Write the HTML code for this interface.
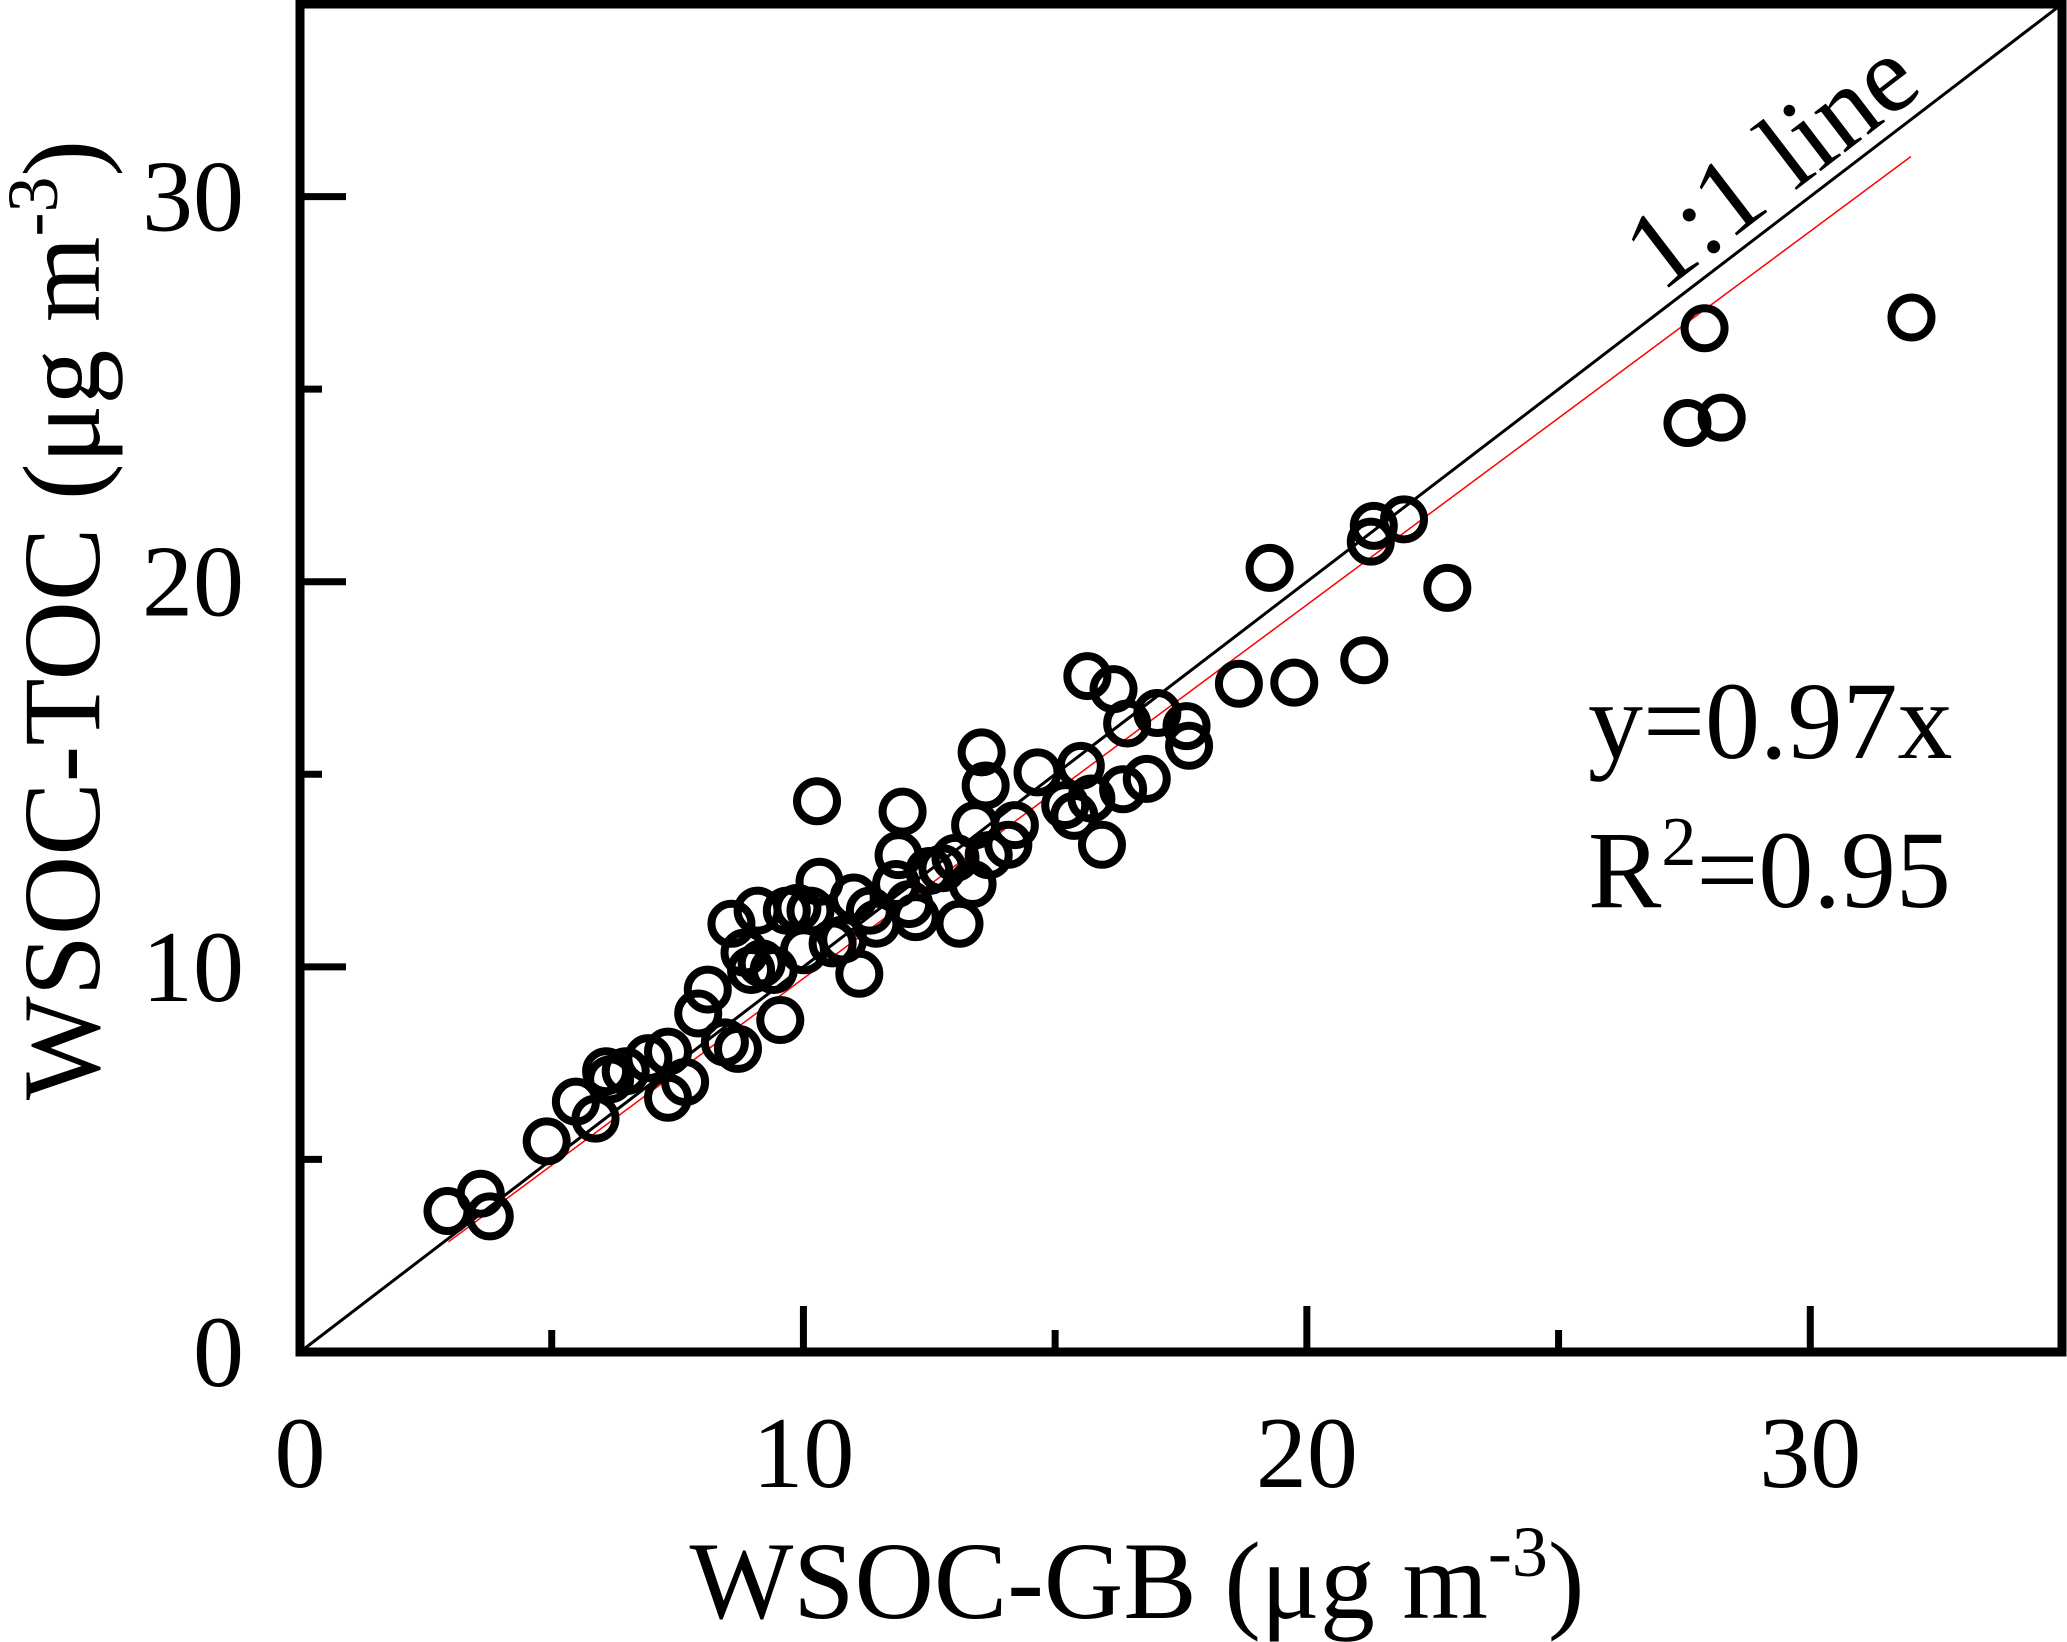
<!DOCTYPE html>
<html><head><meta charset="utf-8"><style>
html,body{margin:0;padding:0;background:#fff;}
svg{display:block;}
text{font-family:"Liberation Serif","Times New Roman",serif;fill:#000;}
</style></head><body>
<svg id="chart" width="2067" height="1642" viewBox="0 0 2067 1642" xmlns="http://www.w3.org/2000/svg">
<g id="plot"></g>
</svg>
<script>
const xTicks=[0,10,20,30];
const yTicks=[0,10,20,30];
const minorTicks=[5,15,25];
const xVals=[2.93,3.59,3.77,4.90,5.48,5.87,6.08,6.16,6.47,6.92,7.31,7.31,7.65,7.91,8.10,8.44,8.57,8.70,8.83,8.96,9.09,9.17,9.41,9.54,9.67,9.88,10.01,10.14,10.27,10.32,10.58,10.79,11.00,11.11,11.32,11.45,11.84,11.89,11.97,12.10,12.23,12.50,12.76,13.02,13.10,13.36,13.41,13.54,13.62,13.68,14.07,14.20,14.65,15.20,15.38,15.51,15.64,15.72,15.93,16.16,16.35,16.43,16.82,17.03,17.61,17.66,18.65,19.26,19.75,21.14,21.27,21.33,21.93,22.79,27.56,27.90,28.24,32.01];
const yVals=[3.66,4.11,3.52,5.47,6.50,6.06,7.29,7.08,7.29,7.63,6.60,7.80,7.01,8.79,9.41,8.04,11.12,7.87,10.37,9.92,11.46,10.09,9.92,8.62,11.46,11.53,10.43,11.46,14.30,12.21,10.61,10.71,11.80,9.82,11.46,11.12,12.15,12.90,14.03,11.63,11.29,12.49,12.56,12.83,11.12,12.15,13.68,15.57,14.71,12.90,13.17,13.68,15.05,14.20,13.92,15.22,17.55,14.37,13.17,17.21,14.61,16.32,14.88,16.59,16.25,15.74,17.35,20.36,17.38,17.96,21.04,21.45,21.62,19.84,24.12,26.58,24.26,26.86];
const fitSlope=[0.97];
const fitRange=[2.95,32.0];

const X0=300,X1=2062,Y0=1352,Y1=4,MAX=35;
const sx=v=>X0+(X1-X0)*v/MAX;
const sy=v=>Y0-(Y0-Y1)*v/MAX;
const NS="http://www.w3.org/2000/svg";
const g=document.getElementById('plot');
function mk(tag,attrs){const e=document.createElementNS(NS,tag);for(const k in attrs)e.setAttribute(k,attrs[k]);g.appendChild(e);return e;}

let l=mk('line',{x1:sx(0),y1:sy(0),x2:sx(MAX),y2:sy(MAX),stroke:'#000','stroke-width':3});


let f=mk('line',{x1:sx(fitRange[0]),y1:sy(fitRange[0]*fitSlope[0]),x2:sx(fitRange[1]),y2:sy(fitRange[1]*fitSlope[0]),stroke:'#ff0000','stroke-width':1.5});



for(let i=0;i<xVals.length;i++){
  const c=mk('circle',{cx:sx(xVals[i]),cy:sy(yVals[i]),r:20,fill:'none',stroke:'#000','stroke-width':8});
  
  
}

let fr=mk('rect',{x:X0,y:Y1,width:X1-X0,height:Y0-Y1,fill:'none',stroke:'#000','stroke-width':9});



xTicks.forEach(v=>{
  if(v>0){const t=mk('line',{x1:sx(v),y1:Y0,x2:sx(v),y2:Y0-46,stroke:'#000','stroke-width':7});
  
  }
  const tx=mk('text',{x:sx(v),y:1487,'font-size':102,'text-anchor':'middle'});
  tx.textContent=v;
  
  
});
yTicks.forEach(v=>{
  if(v>0){const t=mk('line',{x1:X0,y1:sy(v),x2:X0+46,y2:sy(v),stroke:'#000','stroke-width':7});
  
  }
  const tx=mk('text',{x:244,y:sy(v)+34,'font-size':102,'text-anchor':'end'});
  tx.textContent=v;
  
  
});
minorTicks.forEach(v=>{
  const a=mk('line',{x1:sx(v),y1:Y0,x2:sx(v),y2:Y0-22,stroke:'#000','stroke-width':7});
  
  
  const b=mk('line',{x1:X0,y1:sy(v),x2:X0+22,y2:sy(v),stroke:'#000','stroke-width':7});
  
  
});

let xt=mk('text',{x:1137,y:1618,'font-size':110,'text-anchor':'middle'});
xt.innerHTML='WSOC-GB (μg m<tspan dy="-42" font-size="72">-3</tspan><tspan dy="42">)</tspan>';


let yt=mk('text',{x:0,y:0,'font-size':110,'text-anchor':'middle',transform:'translate(99,620) rotate(-90)'});
yt.innerHTML='WSOC-TOC (μg m<tspan dy="-42" font-size="72">-3</tspan><tspan dy="42">)</tspan>';



let ll=mk('text',{x:0,y:0,'font-size':110,'text-anchor':'middle',transform:'translate(1770,162) rotate(-37.5) translate(0,38)'});
ll.textContent='1:1 line';


let eq=mk('text',{x:1588,y:758,'font-size':110});
eq.textContent='y=0.97x';


let r2=mk('text',{x:1588,y:907,'font-size':110});
r2.innerHTML='R<tspan dy="-42" font-size="70">2</tspan><tspan dy="42">=0.95</tspan>';


</script>
</body></html>
